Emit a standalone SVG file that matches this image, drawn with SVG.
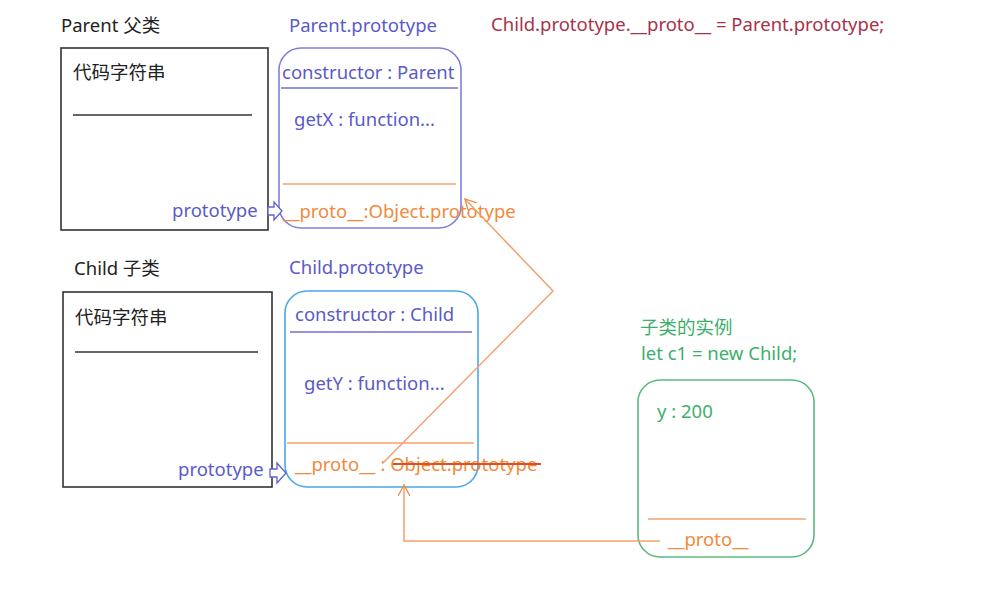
<svg xmlns="http://www.w3.org/2000/svg" width="985" height="590" viewBox="0 0 985 590">
<defs>
<style>
text{font-family:"Noto Sans","Noto Sans CJK SC",sans-serif;font-size:18.5px}
.blk{fill:#222}
.pur{fill:#5a5ac8}
.org{fill:#f08a3c}
.grn{fill:#3cb06a}
.red{fill:#a8324a}
.box{fill:#fff;stroke:#333;stroke-width:1.6}
.ppr{fill:#fff;stroke:#8080d8;stroke-width:1.6}
.cpr{fill:#fff;stroke:#4aa8e6;stroke-width:1.6}
.ins{fill:#fff;stroke:#5cba80;stroke-width:1.6}
.ol{stroke:#f4a070;stroke-width:1.5;fill:none}
.pl{stroke:#7070d0;stroke-width:1.6;fill:none}
.kl{stroke:#333;stroke-width:1.6}
.hol{fill:#fff;stroke:#6060d0;stroke-width:1.3}
</style>
<marker id="oa" viewBox="0 0 12 12" refX="11" refY="6" markerWidth="12" markerHeight="12" markerUnits="userSpaceOnUse" orient="auto">
<path d="M0,0 L11,6 L0,12" fill="none" stroke="#f08a3c" stroke-width="1.3"/>
</marker>
</defs>
<rect width="985" height="590" fill="#fff"/>
<text x="491" y="31" class="red">Child.prototype.__proto__ = Parent.prototype;</text>

<g id="parent">
<text x="61" y="32" class="blk">Parent 父类</text>
<rect x="61" y="48" width="207" height="182" class="box"/>
<text x="73" y="79" class="blk">代码字符串</text>
<line x1="73" y1="115" x2="252" y2="115" class="kl"/>
<text x="172" y="217" class="pur">prototype</text>
</g>

<g id="parent-prototype">
<text x="289" y="32" class="pur">Parent.prototype</text>
<rect x="279" y="48" width="182" height="180" rx="22" class="ppr"/>
<text x="282" y="79" class="pur">constructor : Parent</text>
<line x1="281" y1="88" x2="458" y2="88" class="pl"/>
<text x="294" y="126" class="pur">getX : function...</text>
<line x1="283" y1="184" x2="456" y2="184" class="ol"/>
<text x="283" y="218" class="org">__proto__:Object.prototype</text>
</g>

<g id="child">
<text x="74" y="275" class="blk">Child 子类</text>
<rect x="63" y="292" width="209" height="195" class="box"/>
<text x="75" y="324" class="blk">代码字符串</text>
<line x1="75" y1="352" x2="258" y2="352" class="kl"/>
<text x="178" y="476" class="pur">prototype</text>
</g>

<g id="child-prototype">
<text x="289" y="274" class="pur">Child.prototype</text>
<rect x="285" y="291" width="193" height="196" rx="22" class="cpr"/>
<text x="295" y="321" class="pur">constructor : Child</text>
<line x1="290" y1="332" x2="472" y2="332" class="pl"/>
<text x="304" y="390" class="pur">getY : function...</text>
<line x1="287" y1="443" x2="474" y2="443" class="ol"/>
<text x="295" y="471" class="org">__proto__ : Object.prototype</text>
<line x1="393" y1="464" x2="541" y2="464" stroke="#e0501e" stroke-width="1.8"/>
</g>

<g id="instance">
<text x="640" y="334" class="grn">子类的实例</text>
<text x="641" y="360" class="grn">let c1 = new Child;</text>
<rect x="638" y="380" width="176" height="177" rx="22" class="ins"/>
<text x="657" y="418" class="grn">y : 200</text>
<line x1="648" y1="519" x2="806" y2="519" class="ol"/>
<text x="668" y="546" class="org">__proto__</text>
</g>

<g id="connectors">
<path d="M268,207 h6 v-5 l8,9 l-8,9 v-5 h-6 z" class="hol"/>
<path d="M270,469 h7 v-6 l9,10 l-9,10 v-6 h-7 z" class="hol"/>
<polyline points="383,463 553,291 465,199" class="ol" marker-end="url(#oa)"/>
<polyline points="660,541 404,541 404,485" class="ol" marker-end="url(#oa)"/>
</g>
</svg>
